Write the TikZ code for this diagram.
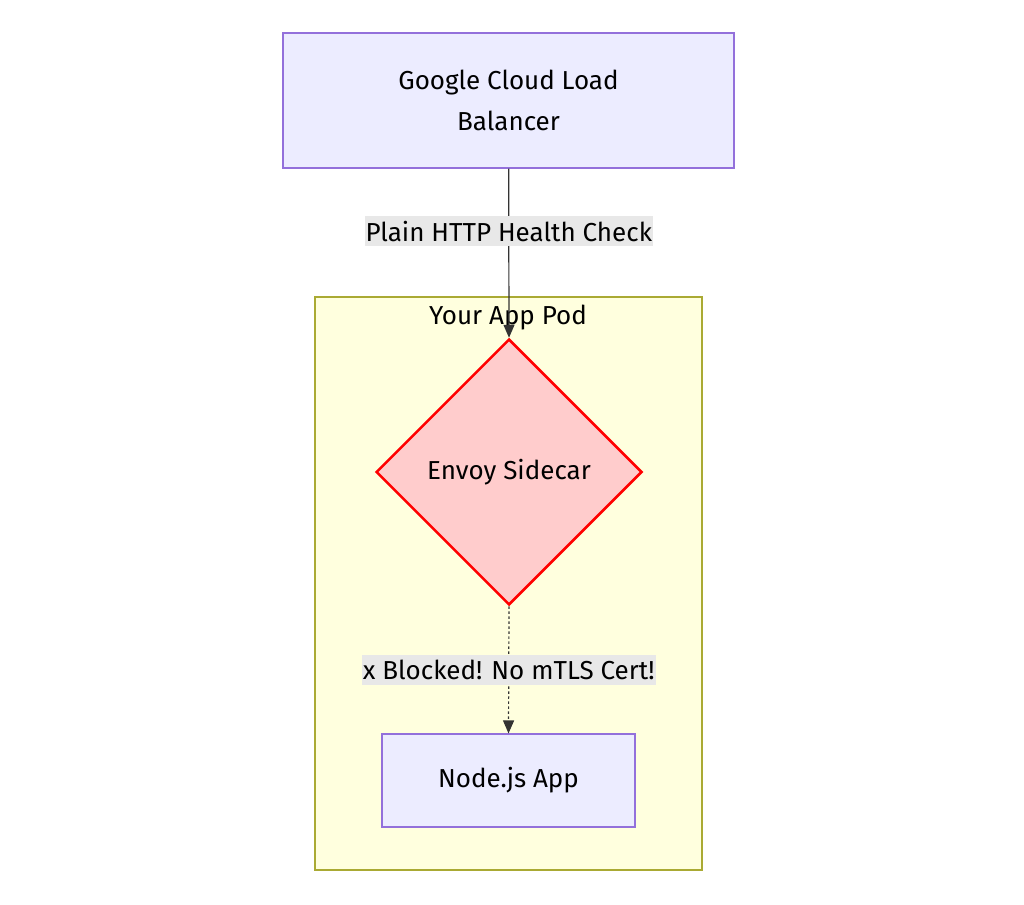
\documentclass[tikz,border=0pt]{standalone}
\usepackage{fontspec}
\setmainfont{Fira Sans}
\usetikzlibrary{shapes.geometric,arrows.meta}
\definecolor{boxfill}{HTML}{ECECFF}
\definecolor{boxline}{HTML}{9370DB}
\definecolor{podfill}{HTML}{FFFFDE}
\definecolor{podline}{HTML}{AAAA33}
\definecolor{lblfill}{HTML}{E8E8E8}
\definecolor{dfill}{HTML}{FFCCCC}
\tikzset{
  box/.style={draw=boxline,fill=boxfill,line width=1.2pt,font=\fontsize{26}{41}\selectfont,align=center},
  lbl/.style={fill=lblfill,font=\fontsize{26}{30}\selectfont,inner xsep=1pt,inner ysep=5pt},
  flow/.style={draw=black!80,line width=1.2pt,-{Triangle[length=13pt,width=11pt]}}
}
\begin{document}
\begin{tikzpicture}[x=1pt,y=-1pt]
\useasboundingbox (0,0) rectangle (1024,904);
\draw[podline,fill=podfill,line width=1.2pt] (315,297) rectangle (702,870);
\node[font=\fontsize{26}{30}\selectfont] (podtitle) at (508,318) {Your App Pod};
\node[box,minimum width=451pt,minimum height=135pt] (glb) at (508.5,100.5) {Google Cloud Load\\Balancer};
\node[diamond,draw=red,fill=dfill,line width=2.5pt,minimum width=266pt,minimum height=266pt,inner sep=0pt,font=\fontsize{26}{30}\selectfont] (envoy) at (509,472) {Envoy Sidecar};
\node[box,minimum width=253pt,minimum height=93pt] (app) at (508.5,780.5) {Node.js App};
\draw[flow] (glb) -- (envoy.north) node[lbl,pos=0.37]{Plain HTTP Health Check};
\draw[flow,dash pattern=on 2.5pt off 2.5pt] (envoy.south) -- (app.north) node[lbl,pos=0.5]{x Blocked! No mTLS Cert!};
\end{tikzpicture}
\end{document}
